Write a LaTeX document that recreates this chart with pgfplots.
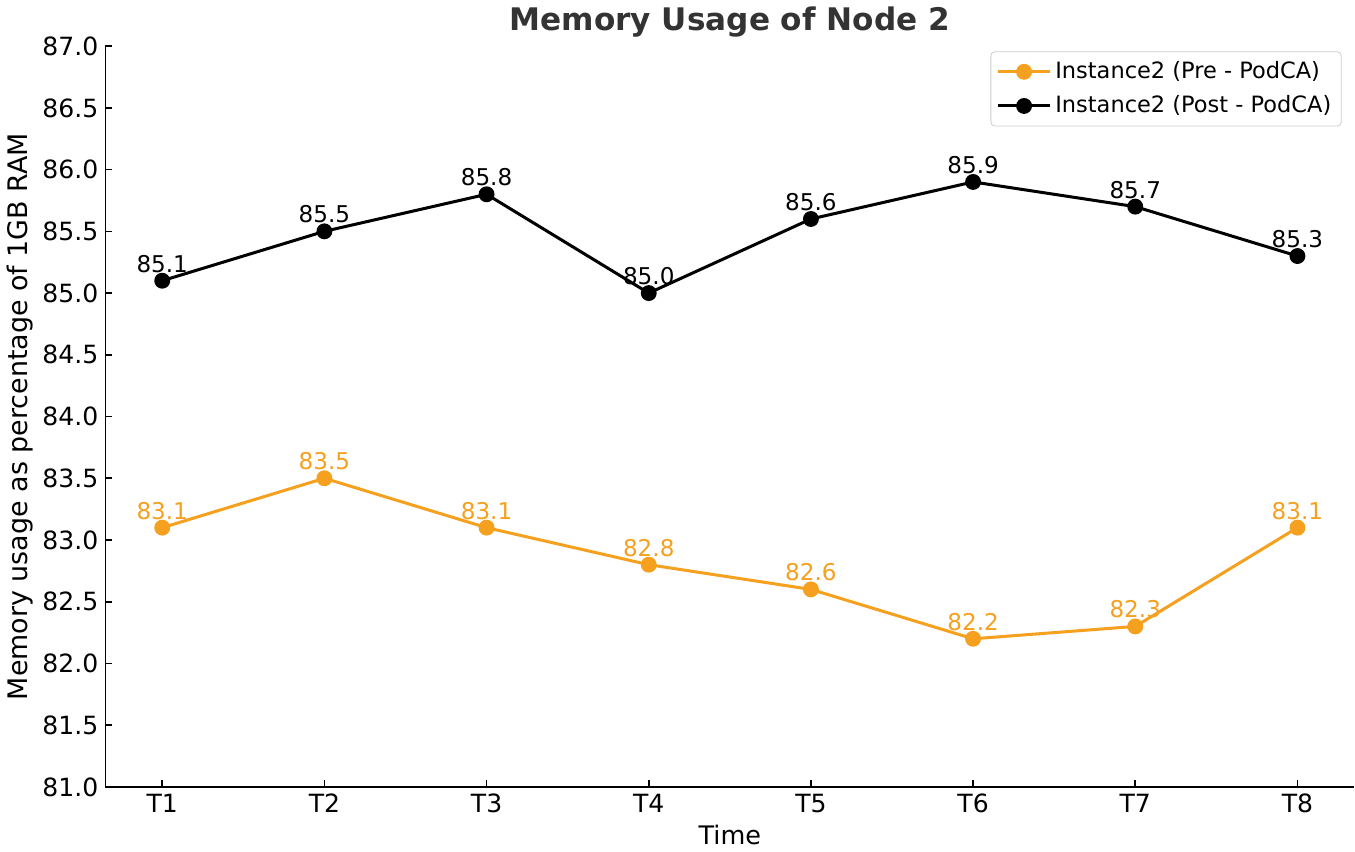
\documentclass[border=0pt]{standalone}
\usepackage{pgfplots}
\pgfplotsset{compat=1.18}
\usepackage{fontspec}
\setmainfont{DejaVu Sans}
\definecolor{myorange}{RGB}{245,160,30}
\definecolor{titlegray}{RGB}{51,51,51}
\begin{document}
\begin{tikzpicture}
\begin{axis}[
  scale only axis,
  width=622pt, height=369pt,
  xmin=-0.35, xmax=7.35,
  ymin=81, ymax=87,
  xtick={0,...,7},
  xticklabels={T1,T2,T3,T4,T5,T6,T7,T8},
  ytick={81,81.5,...,87},
  yticklabel style={/pgf/number format/fixed,/pgf/number format/fixed zerofill,/pgf/number format/precision=1},
  /pgf/number format/assume math mode=true,
  tick label style={font=\fontsize{12.5}{14}\selectfont},
  tick align=inside,
  major tick length=3.5pt,
  axis x line*=bottom, axis y line*=left,
  axis line style={line width=0.8pt},
  every tick/.style={black, line width=0.8pt},
  xlabel={Time}, ylabel={Memory usage as percentage of 1GB RAM},
  xlabel style={font=\fontsize{12.7}{14}\selectfont, yshift=1pt},
  ylabel style={font=\fontsize{13.4}{15}\selectfont, yshift=-2pt},
  title={\textbf{Memory Usage of Node 2}},
  title style={font=\fontsize{15.5}{17}\selectfont, text=titlegray, yshift=-5pt},
  legend style={at={(0.99,0.993)}, anchor=north east, draw=black!20, rounded corners=2pt,
    font=\fontsize{11.2}{13.5}\selectfont, row sep=3pt, inner sep=3pt},
  legend cell align=left,
  legend image code/.code={\draw[mark repeat=2,mark phase=2] plot coordinates {(0cm,0cm)(0.45cm,0cm)(0.9cm,0cm)};},
  nodes near coords,
  point meta=y,
  every node near coord/.append style={font=\fontsize{11.5}{13}\selectfont,
    /pgf/number format/fixed, /pgf/number format/fixed zerofill, /pgf/number format/precision=1},
]
\addplot[color=myorange, line width=1.5pt, mark=*, mark size=3.2pt,
  every node near coord/.append style={text=myorange}]
  coordinates {(0,83.1)(1,83.5)(2,83.1)(3,82.8)(4,82.6)(5,82.2)(6,82.3)(7,83.1)};
\addlegendentry{Instance2 (Pre - PodCA)}
\addplot[color=black, line width=1.5pt, mark=*, mark size=3.2pt,
  every node near coord/.append style={text=black}]
  coordinates {(0,85.1)(1,85.5)(2,85.8)(3,85.0)(4,85.6)(5,85.9)(6,85.7)(7,85.3)};
\addlegendentry{Instance2 (Post - PodCA)}
\end{axis}
\end{tikzpicture}
\end{document}
